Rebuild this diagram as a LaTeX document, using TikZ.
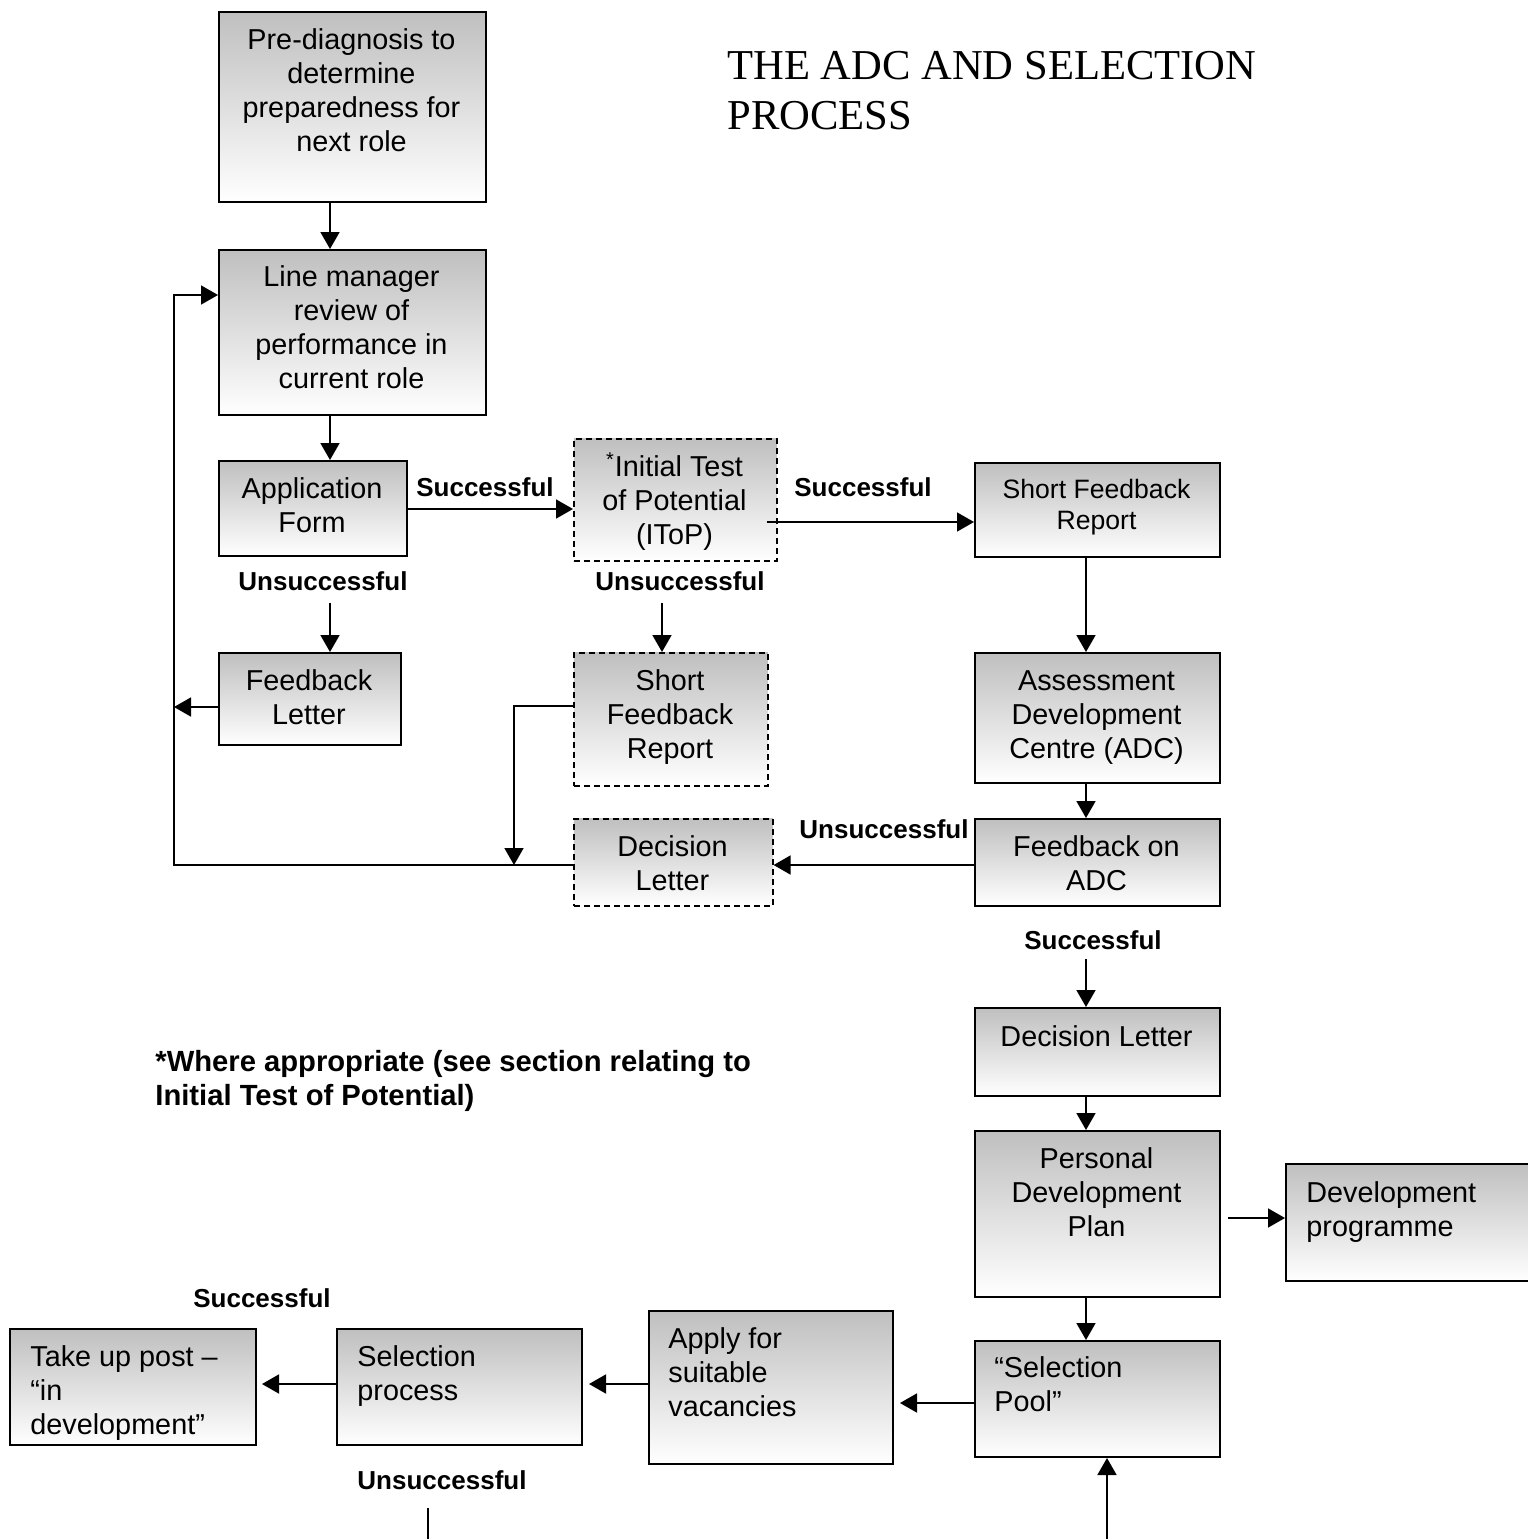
\documentclass[tikz,border=0pt]{standalone}
\usepackage{fontspec}
\setmainfont{Liberation Sans}
\newfontfamily\titlefont{Liberation Serif}
\usetikzlibrary{arrows.meta,calc}
\tikzset{
  box/.style={draw=black, line width=1pt, top color=gray!50, bottom color=white, inner sep=0pt},
  dbox/.style={box, line width=0.8pt, dash pattern=on 3pt off 2pt},
  txt/.style={anchor=north, align=center, inner sep=0pt, font=\fontsize{14.4pt}{17pt}\selectfont},
  stxt/.style={anchor=north, align=center, inner sep=0pt, font=\fontsize{13.3pt}{15.5pt}\selectfont},
  ltxt/.style={anchor=north west, align=left, inner sep=0pt, font=\fontsize{14.4pt}{17pt}\selectfont},
  lab/.style={inner sep=0pt, font=\bfseries\fontsize{13pt}{17pt}\selectfont},
  arr/.style={line width=0.9pt, -{Triangle[length=8.5pt,width=9.5pt]}},
  ln/.style={line width=0.9pt}
}
\newcommand\bx[6][box]{%
  \pgfmathsetmacro\bw{(#5-#3)*0.5}%
  \pgfmathsetmacro\bh{(#6-#4)*0.5}%
  \node[#1, anchor=north west, minimum width=\bw pt, minimum height=\bh pt] (#2) at (#3,#4) {};}
\begin{document}
\begin{tikzpicture}[x=0.5pt,y=-0.5pt]
\useasboundingbox (0,0) rectangle (1528,1539);

% boxes
\bx{pre}{218}{11}{485}{201}
\bx{lm}{218}{249}{485}{414}
\bx{app}{218}{460}{406}{555}
\bx[dbox]{itop}{573}{438}{776}{560}
\bx{sfr1}{974}{462}{1219}{556}
\bx{fbl}{218}{652}{400}{744}
\bx[dbox]{sfr2}{573}{652}{767}{785}
\bx{adc}{974}{652}{1219}{782}
\bx[dbox]{dl1}{573}{818}{772}{905}
\bx{fadc}{974}{818}{1219}{905}
\bx{dl2}{974}{1007}{1219}{1095}
\bx{pdp}{974}{1130}{1219}{1296}
\bx{dev}{1285}{1163}{1536}{1280}
\bx{pool}{974}{1340}{1219}{1456}
\bx{apply}{648}{1310}{892}{1463}
\bx{selp}{336}{1328}{581}{1444}
\bx{take}{9}{1328}{255}{1444}

% box texts
\node[txt] (pre-t) at (351.5,25) {\strut Pre-diagnosis to\\determine\\preparedness for\\next role};
\node[txt] (lm-t) at (351.5,262) {\strut Line manager\\review of\\performance in\\current role};
\node[txt] (app-t) at (312,474) {\strut Application\\Form};
\node[txt] (itop-t) at (674.5,452) {\strut\textsuperscript{*}Initial Test\\of Potential\\(IToP)};
\node[stxt] (sfr1-t) at (1096.5,476) {\strut Short Feedback\\Report};
\node[txt] (fbl-t) at (309,666) {\strut Feedback\\Letter};
\node[txt] (sfr2-t) at (670,666) {\strut Short\\Feedback\\Report};
\node[txt] (adc-t) at (1096.5,666) {\strut Assessment\\Development\\Centre (ADC)};
\node[txt] (dl1-t) at (672.5,832) {\strut Decision\\Letter};
\node[txt] (fadc-t) at (1096.5,832) {\strut Feedback on\\ADC};
\node[txt] (dl2-t) at (1096.5,1022) {\strut Decision Letter};
\node[txt] (pdp-t) at (1096.5,1144) {\strut Personal\\Development\\Plan};
\node[ltxt] (dev-t) at (1306,1178) {\strut Development\\programme};
\node[ltxt] (pool-t) at (994,1353) {\strut “Selection\\Pool”};
\node[ltxt] (apply-t) at (668,1324) {\strut Apply for\\suitable\\vacancies};
\node[ltxt] (selp-t) at (357,1342) {\strut Selection\\process};
\node[ltxt] (take-t) at (30,1342) {\strut Take up post --\\“in\\development”};

% title and note
\node[anchor=north west, align=left, inner sep=0pt, font=\titlefont\fontsize{21.3pt}{25pt}\selectfont] (title) at (727,44) {\strut THE ADC AND SELECTION\\PROCESS};
\node[anchor=north west, align=left, inner sep=0pt, font=\bfseries\fontsize{14.6pt}{17pt}\selectfont] (note) at (155,1047) {\strut *Where appropriate (see section relating to\\Initial Test of Potential)};

% labels
\node[lab] (s1) at (485,487) {Successful};
\node[lab] (s2) at (863,487) {Successful};
\node[lab] (u1) at (323,581) {Unsuccessful};
\node[lab] (u2) at (680,581) {Unsuccessful};
\node[lab] (u3) at (884,829) {Unsuccessful};
\node[lab] (s3) at (1093,940) {Successful};
\node[lab] (s4) at (262,1298) {Successful};
\node[lab] (u4) at (442,1480) {Unsuccessful};

% guide coordinates
\coordinate (gx330) at (330,0);
\coordinate (gx662) at (662,0);
\coordinate (gx1086) at (1086,0);
\coordinate (gx1107) at (1107,0);
\coordinate (gy509) at (0,509);
\coordinate (gy522) at (0,522);
\coordinate (gy865) at (0,865);
\coordinate (gy707) at (0,707);
\coordinate (gy706) at (0,706);
\coordinate (gy1218) at (0,1218);
\coordinate (gy1403) at (0,1403);
\coordinate (gy1384) at (0,1384);
\coordinate (L1) at (174,295);
\coordinate (J) at (514,865);
\coordinate (u1s) at (330,603);
\coordinate (u2s) at (662,603);
\coordinate (s3s) at (1086,959);
\coordinate (i1) at (767,522);
\coordinate (p1) at (1228,1218);
\coordinate (e1) at (900,1403);
\coordinate (e2) at (589,1384);
\coordinate (e3) at (262,1384);
\coordinate (b1) at (428,1508);
\coordinate (b1e) at (428,1545);
\coordinate (b2) at (1107,1545);

% connectors
\draw[arr] (pre.south -| gx330) -- (lm.north -| gx330);
\draw[arr] (lm.south -| gx330) -- (app.north -| gx330);
\draw[arr] (app.east |- gy509) -- (itop.west |- gy509);
\draw[arr] (i1) -- (sfr1.west |- gy522);
\draw[arr] (u1s) -- (fbl.north -| gx330);
\draw[arr] (u2s) -- (sfr2.north -| gx662);
\draw[arr] (sfr1.south -| gx1086) -- (adc.north -| gx1086);
\draw[arr] (adc.south -| gx1086) -- (fadc.north -| gx1086);
\draw[arr] (fadc.west |- gy865) -- (dl1.east |- gy865);
\draw[arr] (dl1.west |- gy865) -| (L1) -- (lm.west |- L1);
\draw[arr] (fbl.west |- gy707) -- (L1 |- gy707);
\draw[arr] (sfr2.west |- gy706) -| (J);
\draw[arr] (s3s) -- (dl2.north -| gx1086);
\draw[arr] (dl2.south -| gx1086) -- (pdp.north -| gx1086);
\draw[arr] (p1) -- (dev.west |- gy1218);
\draw[arr] (pdp.south -| gx1086) -- (pool.north -| gx1086);
\draw[arr] (pool.west |- gy1403) -- (e1);
\draw[arr] (apply.west |- gy1384) -- (e2);
\draw[arr] (selp.west |- gy1384) -- (e3);
\draw[ln] (b1) -- (b1e);
\draw[arr] (b2) -- (pool.south -| gx1107);
\end{tikzpicture}
\end{document}
